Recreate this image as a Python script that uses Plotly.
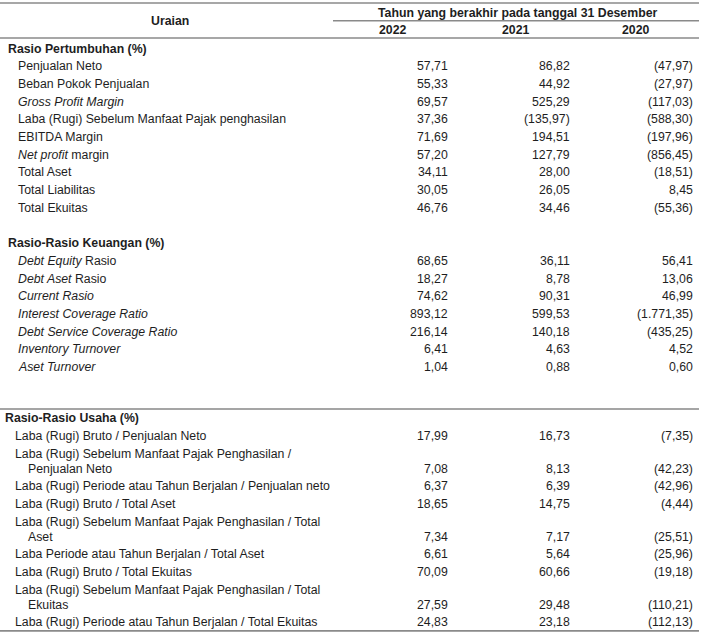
import plotly.graph_objects as go

# ---------------- data ----------------
year_labels = ["2022", "2021", "2020"]
header_title = "Tahun yang berakhir pada tanggal 31 Desember"
label_header = "Uraian"

section_titles = ["Rasio Pertumbuhan (%)", "Rasio-Rasio Keuangan (%)", "Rasio-Rasio Usaha (%)"]

# Section 1
s1_labels = ["Penjualan Neto", "Beban Pokok Penjualan", "<i>Gross Profit Margin</i>",
             "Laba (Rugi) Sebelum Manfaat Pajak penghasilan", "EBITDA Margin",
             "<i>Net profit</i> margin", "Total Aset", "Total Liabilitas", "Total Ekuitas"]
s1_2022 = [57.71, 55.33, 69.57, 37.36, 71.69, 57.20, 34.11, 30.05, 46.76]
s1_2021 = [86.82, 44.92, 525.29, -135.97, 194.51, 127.79, 28.00, 26.05, 34.46]
s1_2020 = [-47.97, -27.97, -117.03, -588.30, -197.96, -856.45, -18.51, 8.45, -55.36]

# Section 2
s2_labels = ["<i>Debt Equity</i> Rasio", "<i>Debt Aset</i> Rasio", "<i>Current Rasio</i>",
             "<i>Interest Coverage Ratio</i>", "<i>Debt Service Coverage Ratio</i>",
             "<i>Inventory Turnover</i>", "<i>Aset Turnover</i>"]
s2_2022 = [68.65, 18.27, 74.62, 893.12, 216.14, 6.41, 1.04]
s2_2021 = [36.11, 8.78, 90.31, 599.53, 140.18, 4.63, 0.88]
s2_2020 = [56.41, 13.06, 46.99, -1771.35, -435.25, 4.52, 0.60]

# Section 3 (lines separated by "|")
s3_labels = ["Laba (Rugi) Bruto / Penjualan Neto",
             "Laba (Rugi) Sebelum Manfaat Pajak Penghasilan /|Penjualan Neto",
             "Laba (Rugi) Periode atau Tahun Berjalan / Penjualan neto",
             "Laba (Rugi) Bruto / Total Aset",
             "Laba (Rugi) Sebelum Manfaat Pajak Penghasilan / Total|Aset",
             "Laba Periode atau Tahun Berjalan / Total Aset",
             "Laba (Rugi) Bruto / Total Ekuitas",
             "Laba (Rugi) Sebelum Manfaat Pajak Penghasilan / Total|Ekuitas",
             "Laba (Rugi) Periode atau Tahun Berjalan / Total Ekuitas"]
s3_2022 = [17.99, 7.08, 6.37, 18.65, 7.34, 6.61, 70.09, 27.59, 24.83]
s3_2021 = [16.73, 8.13, 6.39, 14.75, 7.17, 5.64, 60.66, 29.48, 23.18]
s3_2020 = [-7.35, -42.23, -42.96, -4.44, -25.51, -25.96, -19.18, -110.21, -112.13]

# ---------------- layout constants ----------------
FONT = "Liberation Sans, Arial, sans-serif"
FS = 12.3
TXT = "#1e1e1e"
LINE = "#8a8a8a"
ROW = 17.7
CONT = 15.0
col_right = [450, 572, 695]
col_center = [393, 516, 636]


def fmt(v):
    s = f"{abs(v):,.2f}".replace(",", "X").replace(".", ",").replace("X", ".")
    return f"({s})" if v < 0 else s


annotations = []


def text(x, y, s, anchor="left", bold=False, size=FS):
    if bold:
        s = f"<b>{s}</b>"
    annotations.append(dict(x=x, y=y, xref="x", yref="y", text=s, showarrow=False,
                            xanchor=anchor, yanchor="middle",
                            font=dict(family=FONT, size=size, color=TXT)))


# header
text(170, 21, label_header, "center", bold=True)
text(517, 12.5, header_title, "center", bold=True)
for xc, yl in zip(col_center, year_labels):
    text(xc, 29.5, yl, "center", bold=True)

sections = [
    (s1_labels, s1_2022, s1_2021, s1_2020, 6.0, 16.0),
    (s2_labels, s2_2022, s2_2021, s2_2020, 6.0, 16.0),
    (s3_labels, s3_2022, s3_2021, s3_2020, 3.0, 13.0),
]
gaps_before = [0, ROW, 33.3]  # extra vertical space before section titles

y = 48.5 - ROW
section_y = []
for (labels, a, b, c, xh, xi), title, gap in zip(sections, section_titles, gaps_before):
    y += ROW + gap
    section_y.append(y)
    text(xh, y, title, bold=True)
    for lab, va, vb, vc in zip(labels, a, b, c):
        y += ROW
        parts = lab.split("|")
        text(xi, y, parts[0])
        for p in parts[1:]:
            y += CONT
            text(xi + 13, y, p)
        for xr, v in zip(col_right, (va, vb, vc)):
            text(xr, y, fmt(v), "right")
last_y = y

shapes = [
    dict(type="line", x0=0, x1=699, y0=3, y1=3, line=dict(color=LINE, width=1.6)),
    dict(type="line", x0=333, x1=699, y0=20.7, y1=20.7, line=dict(color=LINE, width=1.6)),
    dict(type="line", x0=0, x1=699, y0=38, y1=38, line=dict(color=LINE, width=1.6)),
    dict(type="line", x0=0, x1=699, y0=section_y[2] - 9, y1=section_y[2] - 9,
         line=dict(color="#a5a5a5", width=2)),
    dict(type="line", x0=0, x1=699, y0=last_y + 8.5, y1=last_y + 8.5,
         line=dict(color=LINE, width=1.6)),
]
for s in shapes:
    s.update(xref="x", yref="y")

fig = go.Figure()
fig.add_trace(go.Scatter(x=[0, 706], y=[0, 640], mode="markers",
                         marker=dict(opacity=0), hoverinfo="skip", showlegend=False))
fig.update_layout(
    width=706, height=640, margin=dict(l=0, r=0, t=0, b=0),
    paper_bgcolor="white", plot_bgcolor="white",
    xaxis=dict(range=[0, 706], visible=False, fixedrange=True),
    yaxis=dict(range=[640, 0], visible=False, fixedrange=True),
    annotations=annotations, shapes=shapes, showlegend=False,
)
fig.write_html("out.html", config={"displayModeBar": False},
               post_script="document.body.style.margin='0';document.body.style.overflow='hidden';")
